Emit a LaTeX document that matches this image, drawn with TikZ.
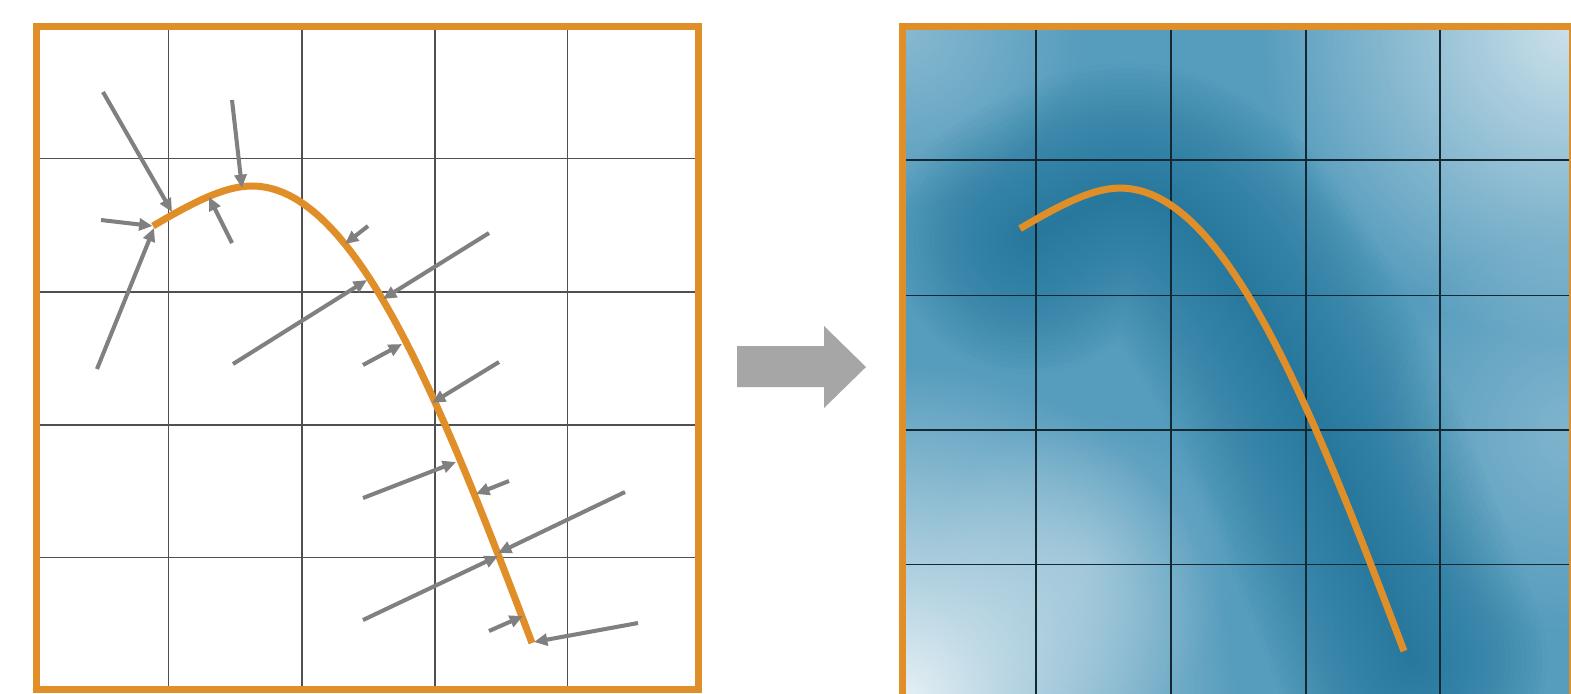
\documentclass[tikz,border=0pt]{standalone}
\usetikzlibrary{arrows.meta,fadings}
\definecolor{frameorange}{RGB}{224,142,40}
\definecolor{vecgray}{RGB}{128,128,128}
\definecolor{bigarrowgray}{RGB}{166,166,166}
\definecolor{fieldblue}{RGB}{86,156,189}
\definecolor{fielddark}{RGB}{20,108,148}
\definecolor{gridgray}{RGB}{80,80,80}
\definecolor{griddark}{RGB}{20,40,50}
\tikzfading[name=spotfade,inner color=transparent!0,outer color=transparent!100]
% the ridge line, in panel coordinates
\newcommand{\ridgepath}{(116.5,199.5) .. controls (163.5,171.5) and (191.5,159.5) .. (215.5,159.5)
  .. controls (318.5,159.5) and (403.5,373.5) .. (495.5,616.5)}
\begin{document}
\begin{tikzpicture}[x=0.01cm,y=-0.01cm,
  panelframe/.style={draw=frameorange,line width=2pt},
  ridge/.style={draw=frameorange,line width=2pt},
  gridthin/.style={draw=gridgray,line width=0.35pt},
  gridfield/.style={draw=griddark,line width=0.45pt},
  lightspot/.style={fill=white,path fading=spotfade,fill opacity=#1},
  vec/.style={draw=vecgray,line width=1.15pt,-{Triangle[length=3.8pt,width=3.4pt]}}]
\clip (0,0) rectangle (1571,693);
\fill[white] (0,0) rectangle (1571,693);
% left panel: vectors pulling on the ridge
\begin{scope}[shift={(36.5,26.5)}]
\foreach \g in {132,265.5,398.5,531} {
  \draw[gridthin] (\g,0) -- (\g,662);
  \draw[gridthin] (0,\g) -- (662,\g);
}
\draw[ridge] \ridgepath;
\draw[vec] (66.5,65.5) -- (135.5,185.5);
\draw[vec] (195.5,73.5) -- (205.5,161.5);
\draw[vec] (64.5,193.5) -- (116,199.5);
\draw[vec] (60.5,342.5) -- (117.5,201.5);
\draw[vec] (195.5,216.5) -- (172.5,170.5);
\draw[vec] (331.5,199.5) -- (308.5,217.5);
\draw[vec] (196.5,337.5) -- (330.5,253.5);
\draw[vec] (452.5,206.5) -- (346.5,272.5);
\draw[vec] (326.5,338.5) -- (365.5,317.5);
\draw[vec] (462.5,335.5) -- (395.5,376.5);
\draw[vec] (326.5,471.5) -- (419.5,435.5);
\draw[vec] (472.5,454.5) -- (439.5,467.5);
\draw[vec] (588.5,465.5) -- (461.5,526.5);
\draw[vec] (326.5,593.5) -- (461.5,529.5);
\draw[vec] (452.5,604.5) -- (486.5,589.5);
\draw[vec] (601.5,596.5) -- (497.5,615.5);
\draw[panelframe] (0,0) rectangle (662,663);
\end{scope}
% big arrow
\fill[bigarrowgray] (737,346) -- (824,346) -- (824,326) -- (866,367) -- (824,408)
  -- (824,387) -- (737,387) -- cycle;
% right panel: the field
\begin{scope}[shift={(902,26.5)},scale=1.013]
\begin{scope}
\clip (0,0) rectangle (662,663);
\fill[fieldblue] (0,0) rectangle (662,663);
\fill[lightspot=0.85] (0,663) circle (330);
\fill[lightspot=0.7] (662,0) circle (310);
\fill[lightspot=0.3] (0,0) circle (180);
\fill[lightspot=0.25] (662,400) circle (200);
\fill[lightspot=0.25] (180,530) circle (150);
\begin{scope}[shift={(8,10)}]
\foreach \w in {77,74,...,2}
  \draw[fielddark,opacity=0.034,line width=\w pt,line cap=round] \ridgepath;
\end{scope}
\end{scope}
\foreach \g in {132,265.5,398.5,531} {
  \draw[gridfield] (\g,0) -- (\g,663);
  \draw[gridfield] (0,\g) -- (662,\g);
}
\draw[ridge] \ridgepath;
\draw[panelframe] (0,0) rectangle (662,663);
\end{scope}
\end{tikzpicture}
\end{document}
